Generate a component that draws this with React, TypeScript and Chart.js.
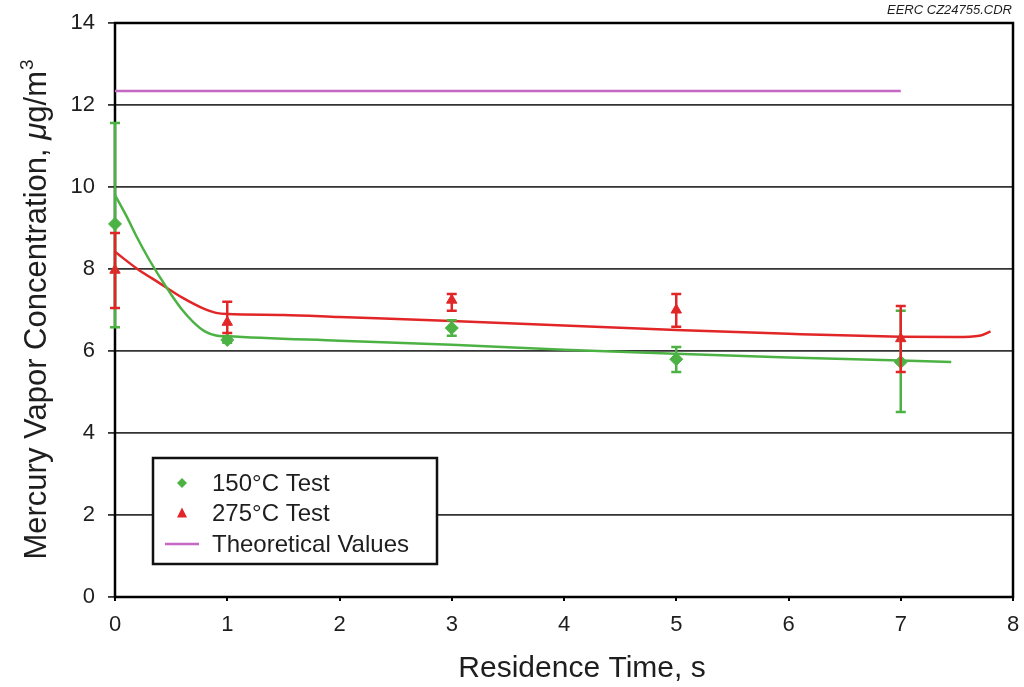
import React, { useEffect, useRef } from 'react';
import { Chart, registerables } from 'chart.js';
Chart.register(...registerables);

const testTimes = [0, 1, 3, 5, 7];
const test150 = [9.1, 6.27, 6.56, 5.8, 5.73];
const test150Low = [6.58, 6.2, 6.37, 5.49, 4.51];
const test150High = [11.56, 6.35, 6.75, 6.1, 6.98];
const test275 = [7.97, 6.7, 7.24, 7.0, 6.3];
const test275Low = [7.05, 6.44, 6.98, 6.59, 5.49];
const test275High = [8.88, 7.2, 7.39, 7.39, 7.1];

const fit150X = [0, 0.1, 0.2, 0.3, 0.4, 0.5, 0.6, 0.7, 0.8, 0.9, 1, 2, 3, 4, 5, 6, 7, 7.45];
const fit150Y = [9.8, 9.3, 8.75, 8.25, 7.8, 7.38, 7.0, 6.7, 6.48, 6.38, 6.36, 6.25, 6.15, 6.03, 5.93, 5.84, 5.77, 5.73];
const fit275X = [0, 0.2, 0.4, 0.6, 0.8, 0.9, 1, 1.5, 2, 3, 4, 5, 6, 7, 7.5, 7.7, 7.8];
const fit275Y = [8.42, 8.0, 7.65, 7.3, 7.02, 6.93, 6.9, 6.88, 6.83, 6.73, 6.62, 6.51, 6.42, 6.35, 6.34, 6.37, 6.48];
const theoryX = [0, 7];
const theoryY = [12.34, 12.34];

const yTicks = [0, 2, 4, 6, 8, 10, 12, 14];
const xTicks = [0, 1, 2, 3, 4, 5, 6, 7, 8];

const GREEN = 'rgb(76,178,68)';
const RED = 'rgb(226,38,40)';
const PURPLE = 'rgb(196,104,196)';
const TEXT = '#1e1e1e';
const FONT = '"Liberation Sans", Arial, Helvetica, sans-serif';

const toXY = (xs: number[], ys: number[]) => xs.map((x, i) => ({ x, y: ys[i] }));

const errorBars: Record<number, { low: number[]; high: number[] }> = {
  3: { low: test150Low, high: test150High },
  4: { low: test275Low, high: test275High },
};

const framePlugin = {
  id: 'frameAndBars',
  beforeDatasetsDraw(chart: any) {
    const ctx = chart.ctx;
    const a = chart.chartArea;
    ctx.save();
    ctx.strokeStyle = '#000';
    ctx.lineWidth = 2.5;
    ctx.strokeRect(a.left, a.top, a.right - a.left, a.bottom - a.top);
    ctx.restore();
  },
  afterDatasetsDraw(chart: any) {
    const ctx = chart.ctx;
    const xs = chart.scales.x;
    const ys = chart.scales.y;
    [3, 4].forEach((di) => {
      const ds = chart.data.datasets[di];
      const eb = errorBars[di];
      ctx.save();
      ctx.strokeStyle = ds.borderColor;
      ctx.lineWidth = 2.5;
      ds.data.forEach((p: any, i: number) => {
        const px = xs.getPixelForValue(p.x);
        const y1 = ys.getPixelForValue(eb.low[i]);
        const y2 = ys.getPixelForValue(eb.high[i]);
        ctx.beginPath();
        ctx.moveTo(px, y1);
        ctx.lineTo(px, y2);
        ctx.moveTo(px - 5, y1);
        ctx.lineTo(px + 5, y1);
        ctx.moveTo(px - 5, y2);
        ctx.lineTo(px + 5, y2);
        ctx.stroke();
      });
      ctx.restore();
    });
  },
  afterDraw(chart: any) {
    const ctx = chart.ctx;
    const a = chart.chartArea;
    ctx.save();

    // legend box
    const lx = a.left + 38;
    const ly = a.top + 435;
    const lw = 284;
    const lh = 106;
    ctx.fillStyle = '#fff';
    ctx.fillRect(lx, ly, lw, lh);
    ctx.lineWidth = 2.5;
    ctx.strokeStyle = '#111';
    ctx.strokeRect(lx, ly, lw, lh);
    ctx.font = `24px ${FONT}`;
    ctx.textBaseline = 'middle';
    ctx.textAlign = 'left';
    const labels = chart.data.datasets.slice(3, 6);
    labels.forEach((ds: any, i: number) => {
      const cy = ly + 25 + i * 30.5;
      const mx = lx + 29;
      if (i === 0) {
        ctx.fillStyle = ds.backgroundColor;
        ctx.beginPath();
        ctx.moveTo(mx, cy - 5);
        ctx.lineTo(mx + 5, cy);
        ctx.lineTo(mx, cy + 5);
        ctx.lineTo(mx - 5, cy);
        ctx.closePath();
        ctx.fill();
      } else if (i === 1) {
        ctx.fillStyle = ds.backgroundColor;
        ctx.beginPath();
        ctx.moveTo(mx, cy - 6);
        ctx.lineTo(mx + 5, cy + 4);
        ctx.lineTo(mx - 5, cy + 4);
        ctx.closePath();
        ctx.fill();
      } else {
        ctx.strokeStyle = ds.borderColor;
        ctx.lineWidth = 2.5;
        ctx.beginPath();
        ctx.moveTo(mx - 17, cy);
        ctx.lineTo(mx + 17, cy);
        ctx.stroke();
      }
      ctx.fillStyle = TEXT;
      ctx.fillText(ds.label, lx + 59, cy + 1);
    });

    // y title with italic mu and superscript 3
    ctx.save();
    ctx.translate(46, (a.top + a.bottom) / 2);
    ctx.rotate(-Math.PI / 2);
    ctx.fillStyle = TEXT;
    ctx.textBaseline = 'alphabetic';
    const p1 = 'Mercury Vapor Concentration, ';
    const p2 = '\u03bc';
    const p3 = 'g/m';
    const p4 = '3';
    const f = `31px ${FONT}`;
    const fi = `italic 31px ${FONT}`;
    const fs = `19px ${FONT}`;
    ctx.font = f;
    const w1 = ctx.measureText(p1).width;
    const w3 = ctx.measureText(p3).width;
    ctx.font = fi;
    const w2 = ctx.measureText(p2).width;
    ctx.font = fs;
    const w4 = ctx.measureText(p4).width;
    let x = -(w1 + w2 + w3 + w4) / 2;
    ctx.textAlign = 'left';
    ctx.font = f;
    ctx.fillText(p1, x, 0);
    x += w1;
    ctx.font = fi;
    ctx.fillText(p2, x, 0);
    x += w2;
    ctx.font = f;
    ctx.fillText(p3, x, 0);
    x += w3 + 1;
    ctx.font = fs;
    ctx.fillText(p4, x, -13);
    ctx.restore();

    // x title
    ctx.font = `30px ${FONT}`;
    ctx.fillStyle = TEXT;
    ctx.textAlign = 'center';
    ctx.textBaseline = 'alphabetic';
    ctx.fillText('Residence Time, s', 582, 677);

    // file tag
    ctx.font = `italic 13px ${FONT}`;
    ctx.fillStyle = TEXT;
    ctx.textAlign = 'right';
    ctx.textBaseline = 'middle';
    ctx.fillText('EERC CZ24755.CDR', a.right - 1, 10);
    ctx.restore();
  },
};

export default function App() {
  const ref = useRef<HTMLCanvasElement>(null);
  useEffect(() => {
    document.body.style.margin = '0';
    const chart = new Chart(ref.current!, {
      type: 'scatter',
      data: {
        datasets: [
          {
            type: 'line',
            label: 'fit150',
            data: toXY(fit150X, fit150Y),
            borderColor: GREEN,
            borderWidth: 2.5,
            pointRadius: 0,
            cubicInterpolationMode: 'monotone',
            fill: false,
            clip: false,
          },
          {
            type: 'line',
            label: 'fit275',
            data: toXY(fit275X, fit275Y),
            borderColor: RED,
            borderWidth: 2.5,
            pointRadius: 0,
            cubicInterpolationMode: 'monotone',
            fill: false,
            clip: false,
          },
          {
            type: 'line',
            label: 'theory',
            data: toXY(theoryX, theoryY),
            borderColor: PURPLE,
            borderWidth: 2.5,
            pointRadius: 0,
            fill: false,
            clip: false,
          },
          {
            label: '150\u00b0C Test',
            data: toXY(testTimes, test150),
            backgroundColor: GREEN,
            borderColor: GREEN,
            pointStyle: 'rectRot',
            pointRadius: 6.5,
            clip: false,
          },
          {
            label: '275\u00b0C Test',
            data: toXY(testTimes, test275),
            backgroundColor: RED,
            borderColor: RED,
            pointStyle: 'triangle',
            pointRadius: 6,
            clip: false,
          },
          {
            type: 'line',
            label: 'Theoretical Values',
            data: [],
            borderColor: PURPLE,
            backgroundColor: PURPLE,
          },
        ],
      },
      options: {
        animation: false,
        responsive: false,
        layout: { padding: { top: 23, right: 11, left: 0, bottom: 0 } },
        plugins: { legend: { display: false }, tooltip: { enabled: false } },
        scales: {
          x: {
            type: 'linear',
            min: 0,
            max: 8,
            afterBuildTicks: (s: any) => {
              s.ticks = xTicks.map((v) => ({ value: v }));
            },
            afterFit: (s: any) => {
              s.height = 90;
              s.paddingLeft = 0;
              s.paddingRight = 0;
            },
            grid: { display: true, drawOnChartArea: false, color: '#000', lineWidth: 2, tickLength: 4 },
            border: { display: false },
            ticks: { color: TEXT, font: { size: 22, family: FONT }, padding: 11, maxRotation: 0 },
          },
          y: {
            type: 'linear',
            min: 0,
            max: 14,
            afterBuildTicks: (s: any) => {
              s.ticks = yTicks.map((v) => ({ value: v }));
            },
            afterFit: (s: any) => {
              s.width = 115;
              s.paddingTop = 0;
              s.paddingBottom = 0;
            },
            grid: { color: '#333', lineWidth: 1.8, tickLength: 7 },
            border: { display: false },
            ticks: { color: TEXT, font: { size: 22, family: FONT }, padding: 13 },
          },
        },
      },
      plugins: [framePlugin],
    } as any);
    return () => chart.destroy();
  }, []);
  return (
    <div style={{ width: 1024, height: 687 }}>
      <canvas ref={ref} width={1024} height={687} style={{ display: 'block' }} />
    </div>
  );
}
